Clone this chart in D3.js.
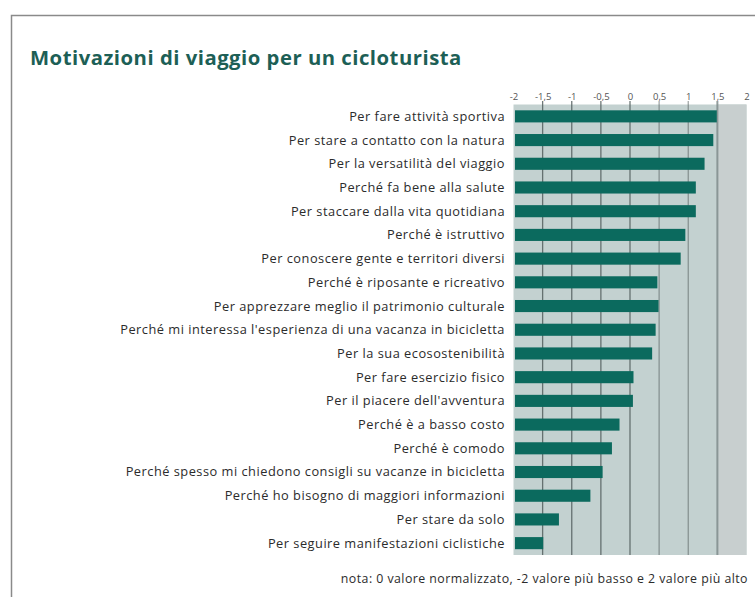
<!DOCTYPE html>
<html lang="it">
<head>
<meta charset="utf-8">
<script src="https://cdn.jsdelivr.net/npm/d3@7"></script>
<style>
  html, body { margin: 0; padding: 0; background: #ffffff; }
  svg { display: block; }
</style>
</head>
<body>
<svg id="chart" width="755" height="597"></svg>
<script>
// Motivazioni (dall'alto verso il basso) e punteggio normalizzato da -2 a 2
const motivazioni = [
  "Per fare attività sportiva",
  "Per stare a contatto con la natura",
  "Per la versatilità del viaggio",
  "Perché fa bene alla salute",
  "Per staccare dalla vita quotidiana",
  "Perché è istruttivo",
  "Per conoscere gente e territori diversi",
  "Perché è riposante e ricreativo",
  "Per apprezzare meglio il patrimonio culturale",
  "Perché mi interessa l'esperienza di una vacanza in bicicletta",
  "Per la sua ecosostenibilità",
  "Per fare esercizio fisico",
  "Per il piacere dell'avventura",
  "Perché è a basso costo",
  "Perché è comodo",
  "Perché spesso mi chiedono consigli su vacanze in bicicletta",
  "Perché ho bisogno di maggiori informazioni",
  "Per stare da solo",
  "Per seguire manifestazioni ciclistiche"
];
const punteggi = [
  1.49, 1.43, 1.28, 1.13, 1.13, 0.95, 0.87, 0.47, 0.49, 0.44,
  0.38, 0.06, 0.05, -0.18, -0.31, -0.47, -0.68, -1.22, -1.49
];
const tickValori = [-2, -1.5, -1, -0.5, 0, 0.5, 1, 1.5, 2];
const tickEtichette = ["-2", "-1,5", "-1", "-0,5", "0", "0,5", "1", "1,5", "2"];

const titolo = "Motivazioni di viaggio per un cicloturista";
const nota = "nota: 0 valore normalizzato, -2 valore più basso e 2 valore più alto";

const svg = d3.select("#chart");

// cornice
svg.append("path")
  .attr("d", "M11.5,597 L11.5,15.5 L755,15.5")
  .attr("fill", "none")
  .attr("stroke", "#8a8a8a")
  .attr("stroke-width", 1.5);

// titolo
svg.append("text")
  .attr("x", 30)
  .attr("y", 65)
  .attr("font-family", "'Open Sans', sans-serif")
  .attr("font-weight", 700)
  .attr("font-size", 20.3)
  .attr("letter-spacing", 0.5)
  .attr("fill", "#1d5f56")
  .text(titolo);

const x = d3.scaleLinear().domain([-2, 2]).range([513.5, 746.5]);
const y = d3.scaleBand().domain(motivazioni).range([104.5, 555]).paddingInner(0.49).paddingOuter(0.245);

// sfondo dell'area del grafico
svg.append("rect")
  .attr("x", x(-2))
  .attr("y", 104.5)
  .attr("width", x(2) - x(-2))
  .attr("height", 555 - 104.5)
  .attr("fill", "#c3d1d0");

svg.append("rect")
  .attr("x", x(1.5))
  .attr("y", 104.5)
  .attr("width", x(2) - x(1.5))
  .attr("height", 555 - 104.5)
  .attr("fill", "#c8cfcf");

// griglia verticale
svg.append("g")
  .selectAll("line")
  .data(tickValori.slice(1, -1))
  .join("line")
  .attr("x1", d => x(d))
  .attr("x2", d => x(d))
  .attr("y1", 101)
  .attr("y2", 555)
  .attr("stroke", d => d === 1.5 ? "#7f8c8c" : "#55605f")
  .attr("stroke-width", d => d === 1.5 ? 2 : 1.3)
  .attr("stroke-opacity", d => (d === 0.5 || d === 1) ? 0.55 : 0.85);

// asse superiore con etichette in formato italiano
const asse = d3.axisTop(x)
  .tickValues(tickValori)
  .tickSize(0)
  .tickPadding(0)
  .tickFormat((d, i) => tickEtichette[i]);

svg.append("g")
  .attr("transform", "translate(0,100)")
  .call(asse)
  .call(g => g.select(".domain").remove())
  .call(g => g.selectAll("text")
    .attr("font-family", "'Open Sans', sans-serif")
    .attr("font-size", 9.5)
    .attr("fill", "#555"));

// barre
svg.append("g")
  .selectAll("rect")
  .data(motivazioni)
  .join("rect")
  .attr("x", x(-2) + 1.5)
  .attr("y", d => y(d))
  .attr("width", (d, i) => x(punteggi[i]) - x(-2) - 1.5)
  .attr("height", y.bandwidth())
  .attr("fill", "#0b6a5e");

// etichette delle categorie
svg.append("g")
  .selectAll("text")
  .data(motivazioni)
  .join("text")
  .attr("x", 505)
  .attr("y", d => y(d) + y.bandwidth() / 2)
  .attr("dy", "0.35em")
  .attr("text-anchor", "end")
  .attr("font-family", "'Open Sans', sans-serif")
  .attr("font-size", 12.8)
  .attr("letter-spacing", 0.5)
  .attr("fill", "#2b2b2b")
  .text(d => d);

// nota
svg.append("text")
  .attr("x", 748)
  .attr("y", 583)
  .attr("text-anchor", "end")
  .attr("font-family", "'Open Sans', sans-serif")
  .attr("font-size", 12.35)
  .attr("letter-spacing", 0.45)
  .attr("fill", "#2b2b2b")
  .text(nota);
</script>
</body>
</html>
